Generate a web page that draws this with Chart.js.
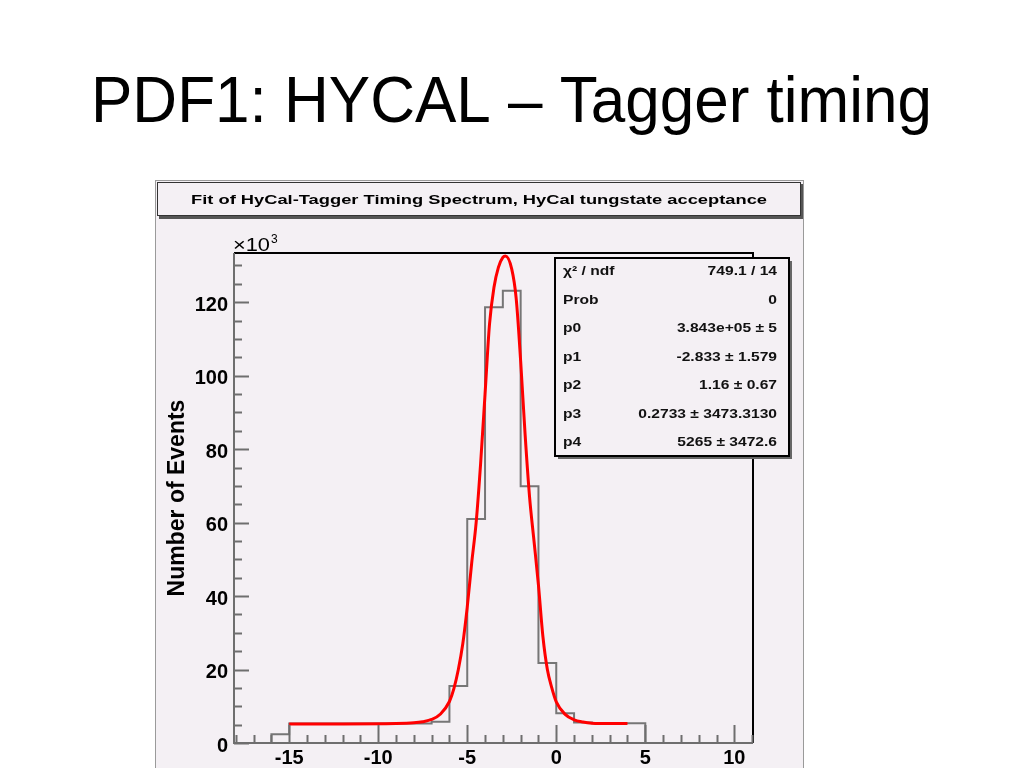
<!DOCTYPE html>
<html><head><meta charset="utf-8">
<script src="https://cdn.jsdelivr.net/npm/chart.js@4.4.1/dist/chart.umd.min.js"></script>
<style>html,body{margin:0;padding:0;background:#fff;overflow:hidden}canvas{display:block}</style>
</head><body>
<canvas id="c" width="1024" height="768"></canvas>
<script>
// ---- data (counts in units of 10^3) ----
const slideTitle = 'PDF1: HYCAL \u2013 Tagger timing';
const plotTitle = 'Fit of HyCal-Tagger Timing Spectrum, HyCal tungstate acceptance';
const yAxisTitle = 'Number of Events';
const binLowEdges = [-16,-15,-14,-13,-12,-11,-10,-9,-8,-7,-6,-5,-4,-3,-2,-1,0,1,2,3,4];
const binWidth = 1;
const binCounts = [2.4,5.3,5.3,5.3,5.3,5.3,5.3,5.3,5.3,5.8,15.5,61.0,118.6,123.1,69.9,21.8,8.1,5.6,5.4,5.4,5.4];
const fitX = [-15,-12,-9,-8,-7.5,-7,-6.5,-6,-5.75,-5.5,-5.25,-5,-4.75,-4.5,-4.25,-4,-3.75,-3.5,-3.25,-3,-2.85,-2.5,-2.25,-2,-1.75,-1.5,-1.25,-1,-0.75,-0.5,-0.25,0,0.5,1,1.5,2,3,4];
const fitY = [5.2,5.2,5.3,5.5,5.8,6.4,7.9,11.3,14.8,20,27,37,49,60,76,95,114,124,129.5,132.2,132.6,129,121,104,84,67,55,43,29,20,15,11.2,7.8,6.3,5.7,5.4,5.3,5.3];
const xTickLabels = [-15,-10,-5,0,5,10];
const yTickLabels = [0,20,40,60,80,100,120];
const statLabels = ['\u03c7\u00b2 / ndf','Prob','p0','p1','p2','p3','p4'];
const statValues = ['749.1 / 14','0','3.843e+05 \u00b1 5','-2.833 \u00b1 1.579','1.16 \u00b1 0.67','0.2733 \u00b1 3473.3130','5265 \u00b1 3472.6'];

// ---- derived chart data ----
const histPoints = [{x: binLowEdges[0], y: 0}];
binLowEdges.forEach((e, i) => histPoints.push({x: e, y: binCounts[i]}));
histPoints.push({x: binLowEdges[binLowEdges.length - 1] + binWidth, y: 0});
const fitPoints = fitX.map((x, i) => ({x, y: fitY[i]}));

const BG = '#f4f0f4';
const FONT = "'Liberation Sans', Arial, sans-serif";

function fitText(ctx, text, x, y, width, align) {
  const w = ctx.measureText(text).width;
  const s = width / w;
  ctx.save();
  ctx.translate(x, y);
  ctx.scale(s, 1);
  ctx.textAlign = align || 'left';
  ctx.fillText(text, 0, 0);
  ctx.restore();
}
function stretchText(ctx, text, x, y, sx, align) {
  ctx.save();
  ctx.translate(x, y);
  ctx.scale(sx, 1);
  ctx.textAlign = align || 'left';
  ctx.fillText(text, 0, 0);
  ctx.restore();
}

const decor = {
  id: 'decor',
  beforeDraw(chart) {
    const ctx = chart.ctx;
    ctx.save();
    ctx.fillStyle = '#ffffff';
    ctx.fillRect(0, 0, 1024, 768);
    // slide title
    ctx.fillStyle = '#000';
    ctx.font = '65px ' + FONT;
    ctx.textBaseline = 'alphabetic';
    fitText(ctx, slideTitle, 91, 122, 841, 'left');
    // ROOT canvas panel
    ctx.fillStyle = BG;
    ctx.fillRect(155, 180, 649, 600);
    ctx.strokeStyle = '#9a9a9a';
    ctx.lineWidth = 1;
    ctx.strokeRect(155.5, 180.5, 648, 600);
    // title box
    ctx.fillStyle = '#555';
    ctx.fillRect(159, 184, 644, 35);
    ctx.fillStyle = BG;
    ctx.fillRect(157, 182, 644, 34);
    ctx.strokeStyle = '#333';
    ctx.strokeRect(157.5, 182.5, 643, 33);
    ctx.fillStyle = '#000';
    ctx.font = 'bold 13px ' + FONT;
    ctx.textBaseline = 'middle';
    fitText(ctx, plotTitle, 479 - 576 / 2, 200, 576, 'left');
    ctx.restore();
  },
  afterDatasetsDraw(chart) {
    const ctx = chart.ctx;
    const xs = chart.scales.x, ys = chart.scales.y;
    const a = chart.chartArea;
    ctx.save();
    // frame
    ctx.strokeStyle = '#000';
    ctx.lineWidth = 2;
    ctx.beginPath();
    ctx.moveTo(a.left, a.top); ctx.lineTo(a.right, a.top); ctx.lineTo(a.right, a.bottom);
    ctx.stroke();
    ctx.strokeStyle = '#6e6e6e';
    ctx.beginPath();
    ctx.moveTo(a.left, a.top); ctx.lineTo(a.left, a.bottom); ctx.lineTo(a.right, a.bottom);
    ctx.stroke();
    // y ticks (inside)
    ctx.lineWidth = 2;
    for (let v = 0; v <= ys.max; v += 5) {
      const py = Math.round(ys.getPixelForValue(v)) + 0.5;
      const len = (v % 20 === 0) ? 15 : 8;
      ctx.beginPath(); ctx.moveTo(a.left, py); ctx.lineTo(a.left + len, py); ctx.stroke();
    }
    // x ticks (inside)
    for (let v = Math.ceil(xs.min); v <= xs.max; v += 1) {
      const px = Math.round(xs.getPixelForValue(v)) + 0.5;
      const len = (v % 5 === 0) ? 18 : 8;
      ctx.beginPath(); ctx.moveTo(px, a.bottom); ctx.lineTo(px, a.bottom - len); ctx.stroke();
    }
    // x10^3
    ctx.fillStyle = '#000';
    ctx.font = '19px ' + FONT;
    ctx.textBaseline = 'alphabetic';
    fitText(ctx, '\u00d710', 233, 251, 37, 'left');
    ctx.font = '12px ' + FONT;
    ctx.textAlign = 'left';
    ctx.fillText('3', 271, 243);
    // stats box
    const bx = 555, by = 258, bw = 234, bh = 198;
    ctx.fillStyle = '#666';
    ctx.fillRect(bx + 3, by + 3, bw, bh);
    ctx.fillStyle = BG;
    ctx.fillRect(bx, by, bw, bh);
    ctx.strokeStyle = '#000';
    ctx.lineWidth = 2;
    ctx.strokeRect(bx, by, bw, bh);
    ctx.fillStyle = '#111';
    ctx.font = 'bold 12px ' + FONT;
    ctx.textBaseline = 'middle';
    statLabels.forEach((lab, i) => {
      const ry = 272 + i * 28.5;
      stretchText(ctx, lab, 563, ry, 1.3, 'left');
      stretchText(ctx, statValues[i], 777, ry, 1.3, 'right');
    });
    ctx.restore();
  }
};

new Chart(document.getElementById('c'), {
  type: 'line',
  data: {
    datasets: [
      {
        label: 'fit',
        data: fitPoints,
        borderColor: '#ff0000',
        borderWidth: 3,
        pointRadius: 0,
        cubicInterpolationMode: 'monotone',
        fill: false,
        order: 0
      },
      {
        label: 'histogram',
        data: histPoints,
        borderColor: '#767676',
        borderWidth: 2,
        pointRadius: 0,
        stepped: 'before',
        fill: false,
        order: 1
      }
    ]
  },
  options: {
    responsive: false,
    animation: false,
    devicePixelRatio: 1,
    layout: { padding: { left: 0, top: 253, right: 271, bottom: 0 } },
    plugins: { legend: { display: false }, tooltip: { enabled: false }, title: { display: false } },
    scales: {
      x: {
        type: 'linear',
        min: -18.1,
        max: 11.05,
        grid: { display: false, drawTicks: false },
        border: { display: false },
        afterFit(s) { s.height = 25; },
        ticks: {
          stepSize: 1,
          autoSkip: false,
          maxRotation: 0,
          padding: 3,
          color: '#000',
          font: { family: FONT, size: 20, weight: 'bold' },
          callback: (v) => xTickLabels.includes(v) ? String(v) : ''
        }
      },
      y: {
        type: 'linear',
        min: 0,
        max: 133.4,
        grid: { display: false, drawTicks: false },
        border: { display: false },
        afterFit(s) { s.width = 234; },
        title: {
          display: true,
          text: yAxisTitle,
          color: '#000',
          font: { family: FONT, size: 23, weight: 'bold' },
          padding: { top: 164 }
        },
        ticks: {
          stepSize: 5,
          autoSkip: false,
          padding: 6,
          labelOffset: 3,
          color: '#000',
          font: { family: FONT, size: 20, weight: 'bold' },
          callback: (v) => yTickLabels.includes(v) ? String(v) : ''
        }
      }
    }
  },
  plugins: [decor]
});
</script>
</body></html>
